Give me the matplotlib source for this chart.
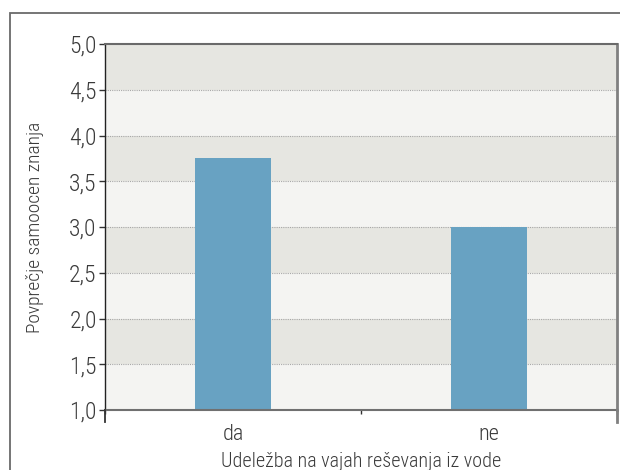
import matplotlib.pyplot as plt
from matplotlib.patches import Rectangle
from matplotlib.ticker import FixedLocator, FuncFormatter

categories = ["da", "ne"]
means = [3.75, 3.0]
y_ticks = [1.0, 1.5, 2.0, 2.5, 3.0, 3.5, 4.0, 4.5, 5.0]

plt.rcParams['font.family'] = ['Roboto Condensed', 'Liberation Sans Narrow',
                               'Barlow Semi Condensed', 'DejaVu Sans']
plt.rcParams['font.weight'] = 'light'
plt.rcParams['axes.labelweight'] = 'light'
text_col = '#3a3a3a'

fig = plt.figure(figsize=(6.2, 4.7), dpi=100)
ax = fig.add_axes([105 / 620, 60 / 470, 512 / 620, 366 / 470])

# outer frame running off the right and bottom edges
fig.patches.append(Rectangle((10 / 620, -0.1), 1.2, (470 - 13) / 470 + 0.1,
                             transform=fig.transFigure, fill=False,
                             edgecolor='#6a6a6a', linewidth=1.3))

# alternating background bands
ax.set_facecolor('#f4f4f2')
for lo in y_ticks[1:-1:2]:
    ax.axhspan(lo, lo + 0.5, color='#e6e6e1', zorder=0, lw=0)
for y in y_ticks[1:-1]:
    ax.axhline(y, color='#a8a8a8', lw=0.8, ls=(0, (1, 1)), zorder=1)

x = range(len(categories))
ax.bar(x, [m - 1.0 for m in means], bottom=1.0, width=0.3,
       color='#68a2c2', zorder=2)

ax.set_xlim(-0.5, 1.5)
ax.set_ylim(1.0, 5.0)

ax.yaxis.set_major_locator(FixedLocator(y_ticks))
ax.yaxis.set_major_formatter(FuncFormatter(lambda v, p: f"{v:.1f}".replace('.', ',')))
ax.tick_params(axis='y', length=4, width=1, color='#333333',
               labelsize=17, labelcolor=text_col, pad=2)

ax.set_xticks(list(x))
ax.set_xticklabels(categories)
ax.tick_params(axis='x', which='major', length=0, labelsize=16,
               labelcolor=text_col, pad=10)
ax.set_xticks([-0.5, 0.5, 1.5], minor=True)
ax.tick_params(axis='x', which='minor', length=3, width=1, color='#333333')

# edge ticks reaching below the axis
for xe in (-0.5, 1.5):
    ax.plot([xe, xe], [1.0, 0.868], color='#333333' if xe < 0 else '#808080',
            lw=1.3 if xe < 0 else 2, clip_on=False, zorder=5)

ax.spines['left'].set_color('#222222')
ax.spines['left'].set_linewidth(1)
ax.spines['top'].set_color('#6a6a6a')
ax.spines['top'].set_linewidth(1.5)
ax.spines['right'].set_color('#808080')
ax.spines['right'].set_linewidth(2)
ax.spines['bottom'].set_color('#707070')
ax.spines['bottom'].set_linewidth(1.5)
ax.spines['bottom'].set_zorder(4)

ax.set_ylabel('Povprečje samoocen znanja', fontsize=14, color=text_col, labelpad=18)
ax.set_xlabel('Udeležba na vajah reševanja iz vode', fontsize=14.5, color=text_col, labelpad=5)

fig.savefig('out.png', dpi=100)
